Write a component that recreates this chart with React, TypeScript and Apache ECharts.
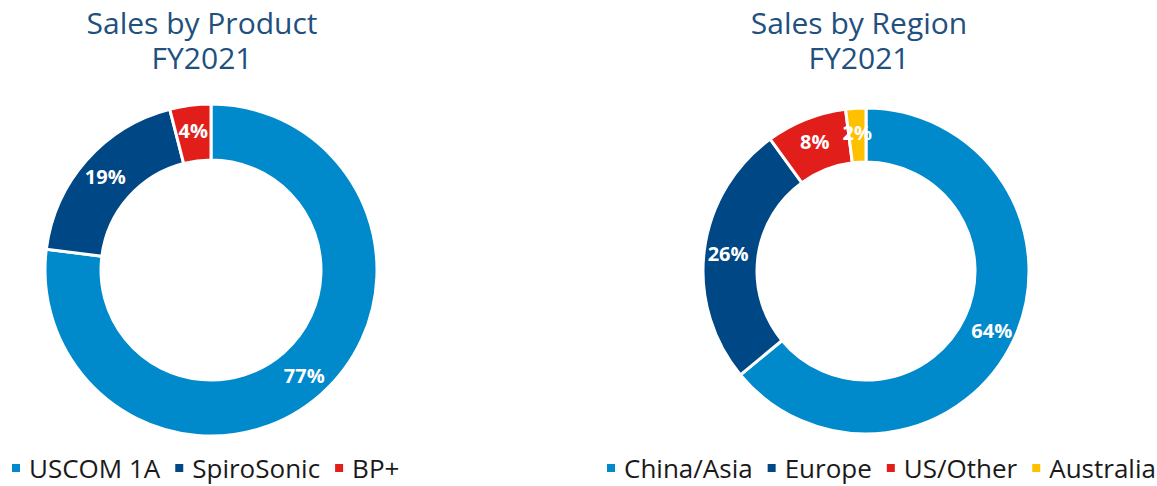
import React, { useEffect, useRef } from "react";
import * as echarts from "echarts";

const productNames = ["USCOM 1A", "SpiroSonic", "BP+"];
const productValues = [77, 19, 4];
const productColors = ["#0089CB", "#004785", "#E21E1B"];

const regionNames = ["China/Asia", "Europe", "US/Other", "Australia"];
const regionValues = [64, 26, 8, 2];
const regionColors = ["#0089CB", "#004785", "#E21E1B", "#FFC000"];

const titleLines = [
  ["Sales by Product", "FY2021"],
  ["Sales by Region", "FY2021"],
];

export default function App() {
  const ref = useRef<HTMLDivElement>(null);
  useEffect(() => {
    if (!ref.current) return;
    const chart = echarts.init(ref.current, null, { renderer: "svg" });
    const mk = (names: string[], values: number[], colors: string[]) =>
      names.map((n, i) => ({ name: n, value: values[i], itemStyle: { color: colors[i] } }));
    const titleStyle = {
      color: "#21507E",
      fontSize: 30,
      fontWeight: "normal" as const,
      fontFamily: "Open Sans",
      lineHeight: 30,
    };
    const legendBase = {
      icon: "rect",
      itemWidth: 10,
      itemHeight: 10,
      itemGap: 13,
      padding: 0,
      top: 455,
      textStyle: { color: "#1a1a1a", fontSize: 26, fontFamily: "Open Sans", padding: [0, 0, 0, 3] },
    };
    const labelStyle = {
      show: true,
      position: "inside" as const,
      formatter: "{c}%",
      color: "#ffffff",
      fontSize: 20,
      fontWeight: "bold" as const,
      fontFamily: "Open Sans",
    };
    const mkTitle = (lines: string[], x: number) => ({
      text: lines[0],
      subtext: lines[1],
      left: x,
      top: 7,
      padding: 0,
      itemGap: 5,
      textAlign: "center",
      textStyle: titleStyle,
      subtextStyle: titleStyle,
    });
    chart.setOption({
      animation: false,
      title: [mkTitle(titleLines[0], 202), mkTitle(titleLines[1], 859)],
      legend: [
        { ...legendBase, left: 10, data: productNames },
        { ...legendBase, left: 605, data: regionNames },
      ],
      series: [
        {
          type: "pie",
          center: [211, 270],
          radius: [110, 166],
          startAngle: 90,
          clockwise: true,
          label: labelStyle,
          labelLine: { show: false },
          itemStyle: { borderColor: "#ffffff", borderWidth: 3 },
          emphasis: { disabled: true },
          data: mk(productNames, productValues, productColors),
        },
        {
          type: "pie",
          center: [866, 271],
          radius: [109, 163],
          startAngle: 90,
          clockwise: true,
          label: labelStyle,
          labelLine: { show: false },
          itemStyle: { borderColor: "#ffffff", borderWidth: 3 },
          emphasis: { disabled: true },
          data: mk(regionNames, regionValues, regionColors),
        },
      ],
    });
    return () => chart.dispose();
  }, []);
  return (
    <div
      ref={ref}
      style={{ position: "fixed", left: 0, top: 0, width: 1157, height: 486, background: "#fff" }}
    />
  );
}
